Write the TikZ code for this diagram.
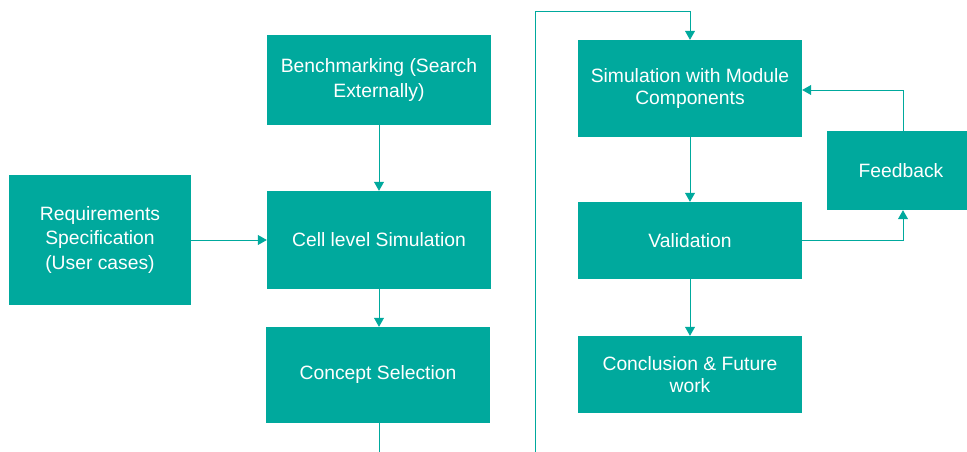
\documentclass[tikz,border=0pt]{standalone}
\usepackage{fontspec}
\setmainfont{Liberation Sans}
\usetikzlibrary{arrows.meta}
\definecolor{flowteal}{HTML}{00A99D}
\tikzset{
  box/.style={fill=flowteal, text=white, align=center, inner sep=0pt,
    minimum width=224pt, font=\fontsize{19.3}{24.5}\selectfont},
  link/.style={draw=flowteal, line width=0.8pt},
  conn/.style={link, -{Triangle[width=10pt,length=9pt]}}
}
\begin{document}
\begin{tikzpicture}[x=1pt,y=-1pt]
  \useasboundingbox (0,0) rectangle (967,452);

  \node[box, minimum width=182pt, minimum height=130pt] (req) at (100,240) {Requirements\\Specification\\(User cases)};
  \node[box, minimum height=90pt] (bench) at (379,80) {Benchmarking (Search\\Externally)};
  \node[box, minimum height=98pt] (cell) at (379,240) {Cell level Simulation};
  \node[box, minimum height=96pt] (concept) at (378,375) {Concept Selection};

  \node[box, minimum height=97pt, font=\fontsize{19.3}{22.5}\selectfont] (sim) at (690,88.5) {Simulation with Module\\Components};
  \node[box, minimum height=77pt] (valid) at (690,240.5) {Validation};
  \node[box, minimum height=77pt, font=\fontsize{19.3}{22.5}\selectfont] (concl) at (690,374.5) {Conclusion \& Future\\work};
  \node[box, minimum width=140pt, minimum height=79pt] (feed) at (897,170.5) {\hspace*{8pt}Feedback};

  \coordinate (cutA) at (379,452);
  \coordinate (cutB) at (535,452);
  \coordinate (topB) at (535,11);

  \draw[conn] (bench) -- (cell);
  \draw[conn] (req) -- (cell);
  \draw[conn] (cell.south) -- (cell.south |- concept.north);
  \draw[link] (concept.south -| cutA) -- (cutA);

  \draw[conn] (cutB) -- (topB) -| (sim.north);
  \draw[conn] (sim) -- (valid);
  \draw[conn] (valid) -- (concl);
  \draw[conn] (valid.east) -| ([xshift=6pt]feed.south);
  \draw[conn] ([xshift=6pt]feed.north) |- ([yshift=-1.5pt]sim.east);

\end{tikzpicture}
\end{document}
